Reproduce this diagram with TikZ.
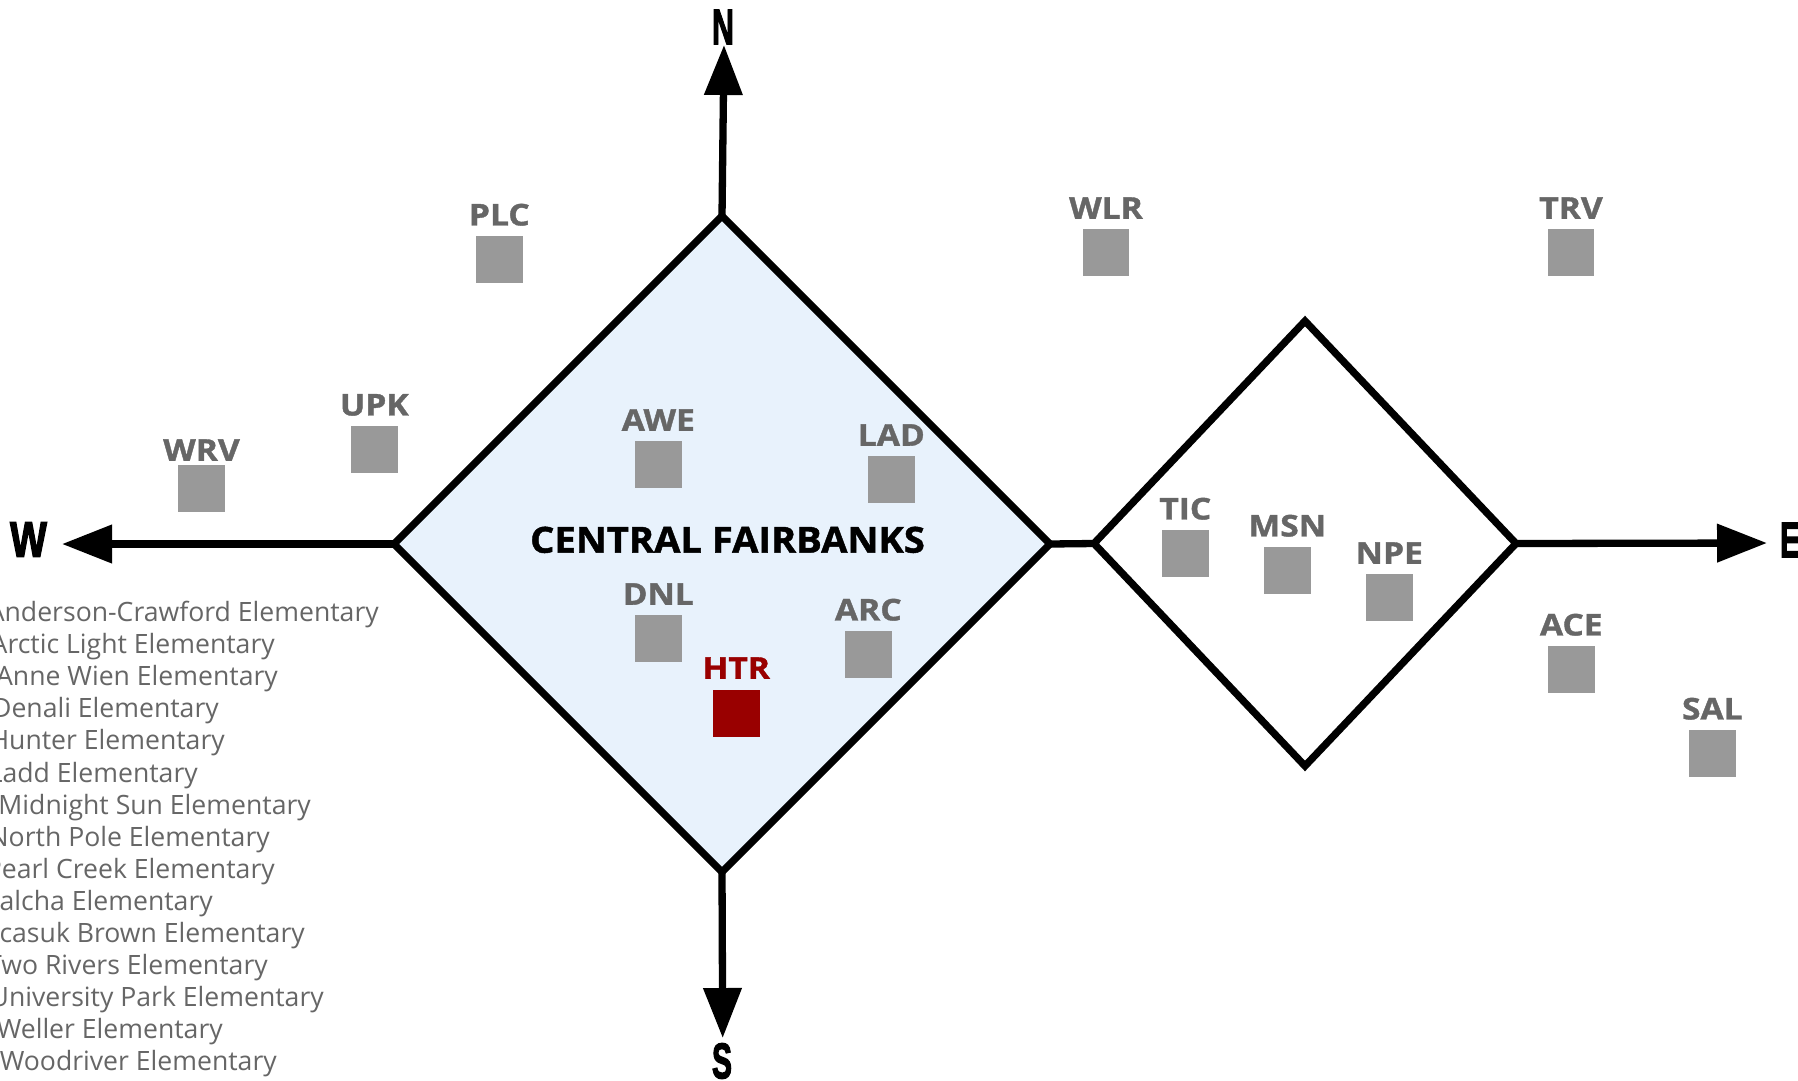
\documentclass[tikz,border=0pt]{standalone}
\usepackage{fontspec}
\setmainfont{Open Sans}
\newfontfamily\codefont{Open Sans}[BoldFeatures={FakeBold=1.2}]
\newfontfamily\compassfont{Liberation Sans}[BoldFeatures={FakeBold=3}]
\usetikzlibrary{shapes.geometric,arrows.meta}

\definecolor{schoolgray}{HTML}{999999}
\definecolor{labelgray}{HTML}{666666}
\definecolor{hunterred}{HTML}{990000}
\definecolor{centralblue}{HTML}{E8F2FC}

\tikzset{
  region/.style={draw=black, line width=7.3pt, shape=diamond, inner sep=0pt, outer sep=0pt},
  school/.style={fill=schoolgray, minimum width=46.7pt, minimum height=46.7pt, inner sep=0pt, outer sep=0pt},
  code/.style={font=\codefont\bfseries\fontsize{30}{30}\selectfont, xscale=1.12, text=labelgray, inner sep=0pt, label distance=10pt},
  heading/.style={font=\codefont\bfseries\fontsize{36}{36}\selectfont, xscale=1.06, inner sep=0pt},
  compass/.style={font=\compassfont\bfseries\fontsize{50}{50}\selectfont, xscale=0.6, inner sep=0pt},
  roster/.style={font=\fontsize{26.6}{26.6}\selectfont, text=labelgray, anchor=base east, inner sep=0pt},
  axis/.style={line width=7.3pt, -{Triangle[length=50pt,width=37pt]}}
}

\begin{document}
\begin{tikzpicture}[x=1pt, y=-1pt]

\useasboundingbox (0,0) rectangle (1798,1080);
\clip (0,0) rectangle (1798,1080);

% the two regions
\node (central) [region, fill=centralblue, minimum width=656pt, minimum height=656pt] at (722,544) {};
\node (outer) [region, minimum width=422pt, minimum height=445pt] at (1305,543.5) {};
\node (cfname) [heading, anchor=base] at (727.5,552.7) {CENTRAL FAIRBANKS};

% compass
\coordinate (ntip) at (724,45);
\coordinate (stip) at (722.7,1038);
\coordinate (wtip) at (62,544);
\coordinate (etip) at (1767,543);

\draw[axis] (central.north) -- (ntip);
\draw[axis] (central.south) -- (stip);
\draw[axis] (central.west) -- (wtip);
\draw[axis] (outer.east) -- (etip);
\draw[line width=7.3pt] (central.east) -- (outer.west);

\node (north) [compass] at (723,27) {N};
\node (south) [compass] at (722,1061) {S};
\node (west) [compass, xscale=1.3] at (28.5,539.5) {W};
\node (east) [compass, anchor=west] at (1780,540) {E};

% schools
\foreach \code/\x/\y in {PLC/499.3/259.3, UPK/374.3/449.3, AWE/658.3/464.3,
  LAD/891.3/479.3, DNL/658.3/638.3, ARC/868.3/654.3, TIC/1185.3/553.3,
  MSN/1287.3/570.3, NPE/1389.3/597.3, ACE/1571.3/669.3, SAL/1712.3/753.3,
  WLR/1106/252.3, TRV/1571/252.3}
{
  \node (\code) [school, label={[code]above:\code}] at (\x,\y) {};
}

\node (WRV) [school, label={[code, label distance=4pt]above:WRV}] at (201.5,488.3) {};
\node (HTR) [school, fill=hunterred, label={[code, text=hunterred, label distance=11pt]above:HTR}] at (736.3,713.3) {};

% roster of schools
\foreach \school/\xr [count=\i from 0] in {Anderson-Crawford/379, Arctic Light/275,
  Anne Wien/278, Denali/219, Hunter/225, Ladd/198, Midnight Sun/311,
  North Pole/270, Pearl Creek/275, Salcha/213, Ticasuk Brown/305,
  Two Rivers/268, University Park/324, Weller/223, Woodriver/277}
{
  \node (roster\i) [roster] at (\xr,{621.5+32.1*\i}) {\school{} Elementary};
}

\end{tikzpicture}
\end{document}
